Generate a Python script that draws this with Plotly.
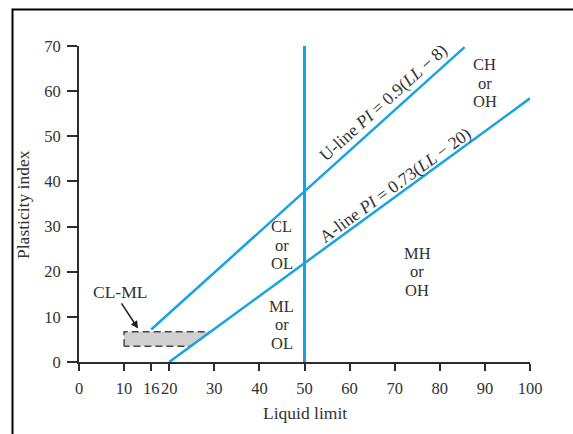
import plotly.graph_objects as go

# ---- data ----
x_ticks = [0, 10, 16, 20, 30, 40, 50, 60, 70, 80, 90, 100]
y_ticks = [0, 10, 20, 30, 40, 50, 60, 70]

u_line_ll = [16, 85.5]
u_line_pi = [7.2, 69.75]
a_line_ll = [20, 100]
a_line_pi = [0, 58.4]
ll50_ll = [50, 50]
ll50_pi = [0, 70]

clml_ll = [10, 10, 29.2, 24.8, 10]
clml_pi = [3.5, 6.7, 6.7, 3.5, 3.5]

zone_top = ["CL", "ML", "MH", "CH"]
zone_mid = ["or", "or", "or", "or"]
zone_bot = ["OL", "OL", "OH", "OH"]
zone_ll = [45, 45, 75, 90]
zone_top_pi = [30.0, 12.35, 24.1, 65.8]
zone_mid_pi = [25.9, 8.25, 20.0, 61.7]
zone_bot_pi = [21.8, 4.15, 15.9, 57.6]

blue = "rgb(22,163,226)"
axis_col = "rgb(45,45,45)"
txt_col = "rgb(50,50,50)"
serif = "Liberation Serif"
fs = 17.5
tfs = 16.5
zfs = 16.5

fig = go.Figure()

fig.add_trace(go.Scatter(x=clml_ll, y=clml_pi, mode="lines", fill="toself",
                         fillcolor="rgb(208,208,208)",
                         line=dict(color="rgb(70,70,70)", width=1.5, dash="7px,4px"),
                         hoverinfo="skip", showlegend=False))
for xs, ys, w in [(u_line_ll, u_line_pi, 2.5), (a_line_ll, a_line_pi, 2.5), (ll50_ll, ll50_pi, 3)]:
    fig.add_trace(go.Scatter(x=xs, y=ys, mode="lines", line=dict(color=blue, width=w),
                             hoverinfo="skip", showlegend=False, cliponaxis=False))

ann = []
for words, pis in [(zone_top, zone_top_pi), (zone_mid, zone_mid_pi), (zone_bot, zone_bot_pi)]:
    for t, x, y in zip(words, zone_ll, pis):
        ann.append(dict(x=x, y=y, text=t, showarrow=False, borderpad=0,
                        font=dict(family=serif, size=zfs, color=txt_col)))

ann.append(dict(x=67.6, y=57.5, text="U-line <i>PI</i> = 0.9(<i>LL</i> − 8)", textangle=-42,
                showarrow=False, font=dict(family=serif, size=fs, color=txt_col)))
ann.append(dict(x=70.1, y=39.2, text="A-line <i>PI</i> = 0.73(<i>LL</i> − 20)", textangle=-36,
                showarrow=False, font=dict(family=serif, size=fs, color=txt_col)))
ann.append(dict(x=9.1, y=15.5, text="CL-ML", showarrow=False,
                font=dict(family=serif, size=fs, color=txt_col)))
ann.append(dict(x=13.1, y=7.4, ax=9.2, ay=13.3, axref="x", ayref="y", text="", showarrow=True,
                arrowhead=2, arrowsize=1, arrowwidth=1.5, arrowcolor="rgb(30,30,30)"))
ann.append(dict(x=0.5, y=-0.1604, xref="paper", yref="paper", text="Liquid limit", showarrow=False,
                yanchor="middle", font=dict(family=serif, size=fs, color=txt_col)))
ann.append(dict(x=-0.1242, y=0.5, xref="paper", yref="paper", text="Plasticity index", showarrow=False,
                textangle=-90, xanchor="center", font=dict(family=serif, size=fs, color=txt_col)))

fig.update_layout(
    width=573, height=434,
    margin=dict(l=79, r=43, t=46, b=72),
    paper_bgcolor="white", plot_bgcolor="white",
    annotations=ann,
    shapes=[dict(type="rect", xref="paper", yref="paper",
                 x0=(12.5 - 79) / 451, x1=(580 - 79) / 451,
                 y0=(362 - 445) / 316, y1=(362 - 9.5) / 316,
                 line=dict(color="black", width=2), fillcolor="rgba(0,0,0,0)", layer="below")],
    font=dict(family=serif, size=fs, color=txt_col),
)
fig.update_xaxes(range=[0, 100], tickvals=x_ticks, ticktext=[str(v) for v in x_ticks], tickangle=0,
                 showgrid=False, zeroline=False, showline=True, linecolor=axis_col, linewidth=2,
                 ticks="outside", ticklen=7, tickwidth=2, tickcolor=axis_col,
                 tickfont=dict(family=serif, size=tfs, color=txt_col), ticklabelstandoff=3)
fig.update_yaxes(range=[0, 70], tickvals=y_ticks, ticktext=[str(v) for v in y_ticks],
                 showgrid=False, zeroline=False, showline=True, linecolor=axis_col, linewidth=2,
                 ticks="outside", ticklen=10, tickwidth=2, tickcolor=axis_col,
                 tickfont=dict(family=serif, size=tfs, color=txt_col), ticklabelstandoff=3)

fig.write_html("out.html", config={"displayModeBar": False},
               post_script="document.body.style.margin='0';")
